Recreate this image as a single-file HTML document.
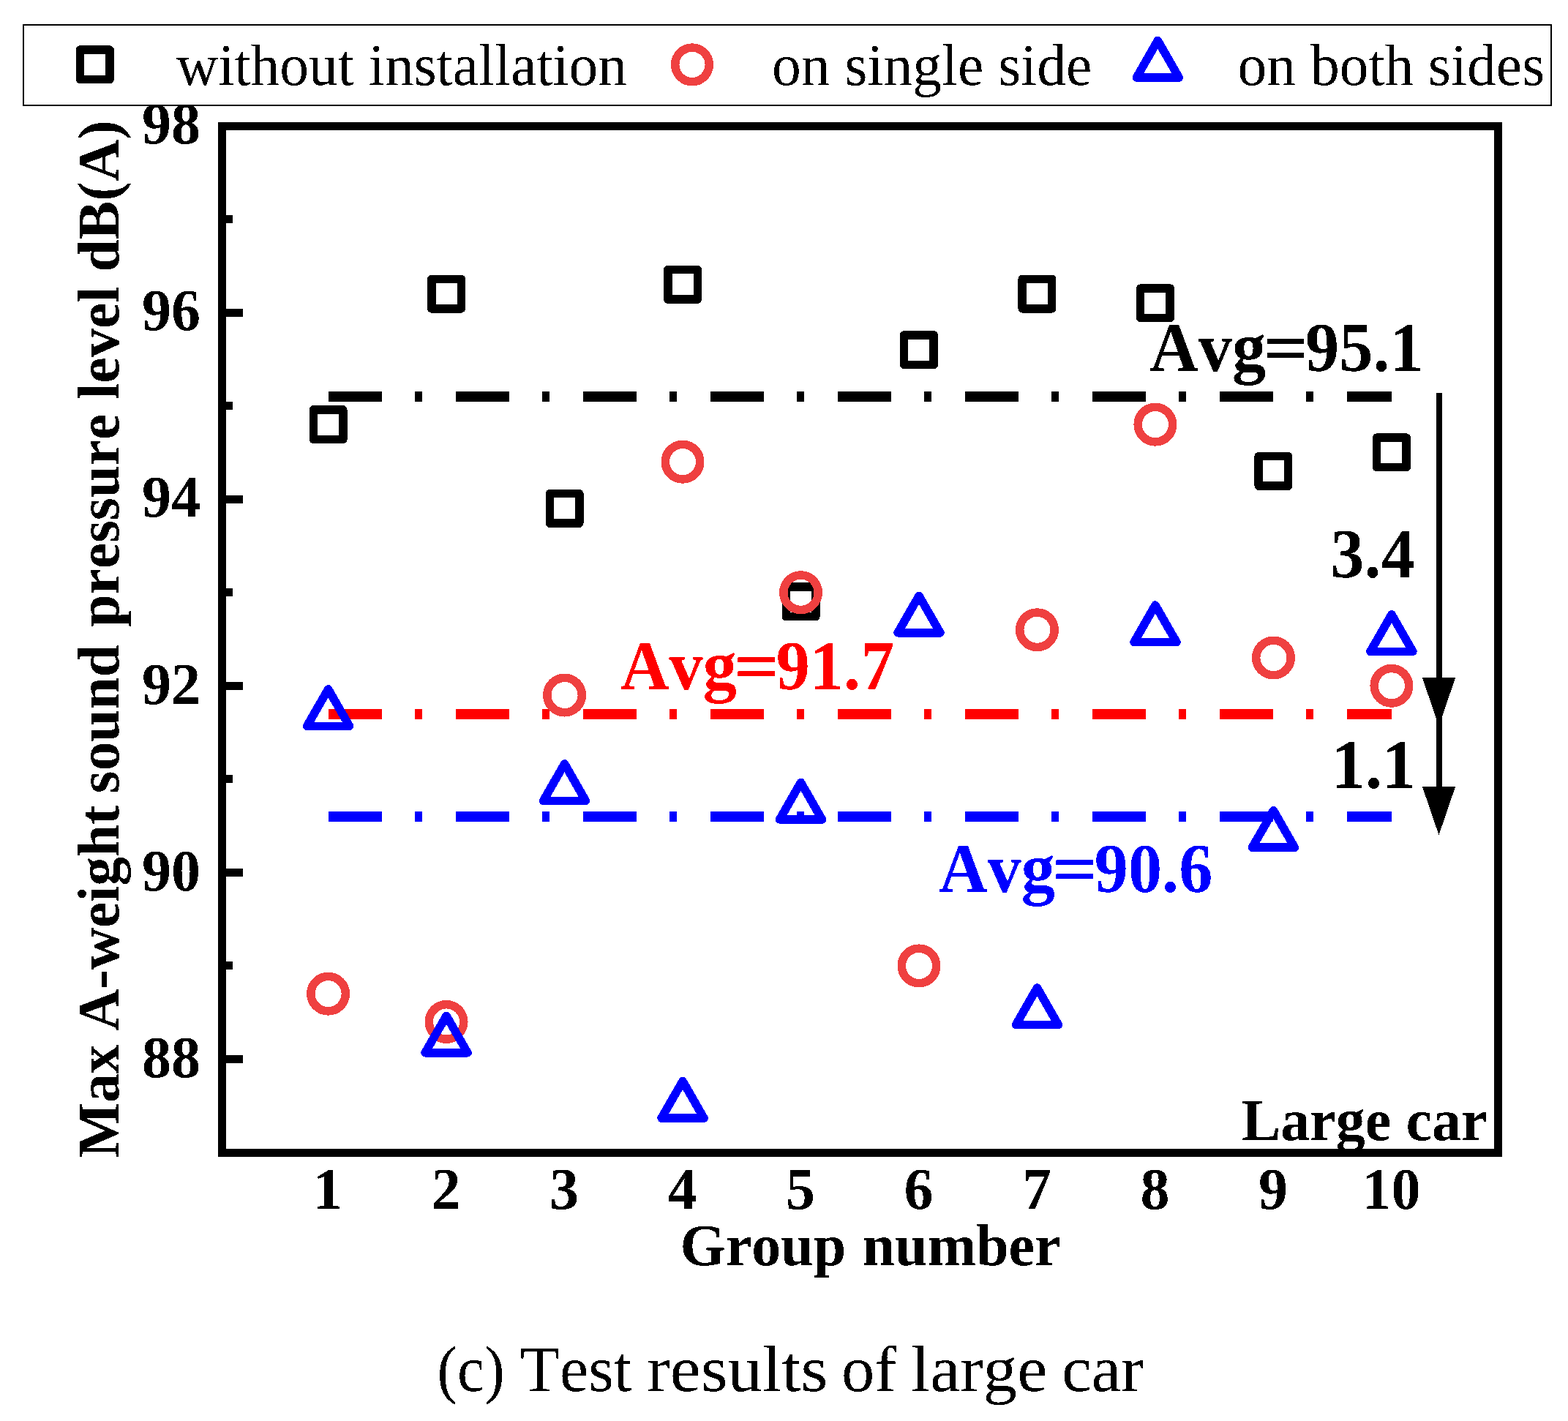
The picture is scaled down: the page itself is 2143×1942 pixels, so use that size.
<!DOCTYPE html>
<html lang="en"><head><meta charset="utf-8"><title>(c) Test results of large car</title>
<style>
html,body{margin:0;padding:0;background:#fff;}
body{width:2143px;height:1942px;overflow:hidden;}
svg{display:block;}
text{font-family:"Liberation Serif","Times New Roman",Times,serif;fill:#000;font-kerning:none;font-variant-ligatures:none;white-space:pre;}
.b{font-weight:bold;}
text{filter:url(#px);}
.tk{font-weight:bold;font-size:80px;}
.lg{font-size:79.5px;}
.an{font-weight:bold;font-size:95px;}
.cap{font-size:88px;}
.mk{fill:none;stroke-width:11.5;stroke-linejoin:round;}
</style></head><body>
<svg width="2143" height="1942" viewBox="0 0 2143 1942" shape-rendering="crispEdges" role="img" aria-label="Max A-weight sound pressure level by group number, large car">
<rect x="0" y="0" width="2143" height="1942" fill="#fff"/>
<defs><filter id="px" x="-5%" y="-5%" width="110%" height="110%" color-interpolation-filters="sRGB"><feComponentTransfer><feFuncA type="discrete" tableValues="0 1"/></feComponentTransfer></filter></defs>
<g class="tk">
<text x="194" y="196">98</text>
<text x="194" y="451.2">96</text>
<text x="194" y="706.4">94</text>
<text x="194" y="961.6">92</text>
<text x="194" y="1216.8">90</text>
<text x="194" y="1472">88</text>
</g>
<g class="tk" text-anchor="middle">
<text x="448.08" y="1651.5">1</text>
<text x="609.56" y="1651.5">2</text>
<text x="771.05" y="1651.5">3</text>
<text x="932.53" y="1651.5">4</text>
<text x="1094.01" y="1651.5">5</text>
<text x="1255.49" y="1651.5">6</text>
<text x="1416.97" y="1651.5">7</text>
<text x="1578.45" y="1651.5">8</text>
<text x="1739.94" y="1651.5">9</text>
<text x="1901.42" y="1651.5">10</text>
</g>
<g class="b" font-size="80"><text x="929.6" y="1729">Group </text><text x="1178.5" y="1729">number</text></g>
<text class="b" font-size="80" transform="translate(162 1581.8) rotate(-90) scale(0.9922 1)">Max <tspan dx="-1.2">A-weight </tspan><tspan dx="-3.8">sound </tspan><tspan dx="5">pressure level dB(A)</tspan></text>
<g stroke="#000" stroke-width="11" fill="none">
<line x1="303.5" y1="1447.5" x2="332" y2="1447.5"/>
<line x1="303.5" y1="1319.5" x2="318" y2="1319.5"/>
<line x1="303.5" y1="1192.5" x2="332" y2="1192.5"/>
<line x1="303.5" y1="1064.5" x2="318" y2="1064.5"/>
<line x1="303.5" y1="937.5" x2="332" y2="937.5"/>
<line x1="303.5" y1="809.5" x2="318" y2="809.5"/>
<line x1="303.5" y1="682.5" x2="332" y2="682.5"/>
<line x1="303.5" y1="554.5" x2="318" y2="554.5"/>
<line x1="303.5" y1="427.5" x2="332" y2="427.5"/>
<line x1="303.5" y1="299.5" x2="318" y2="299.5"/>
</g>
<g stroke-width="14" stroke-dasharray="73.2 45.2 10.2 45.4" fill="none">
<line x1="448.58" y1="541.5" x2="1901.92" y2="541.5" stroke="#000"/>
<line x1="448.58" y1="975.5" x2="1901.92" y2="975.5" stroke="#ff0000"/>
<line x1="448.58" y1="1115.5" x2="1901.92" y2="1115.5" stroke="#0000ff"/>
</g>
<g class="mk">
<rect x="428.33" y="559.9" width="40.5" height="40.5" stroke="#000"/>
<rect x="589.81" y="381.33" width="40.5" height="40.5" stroke="#000"/>
<rect x="751.3" y="674.69" width="40.5" height="40.5" stroke="#000"/>
<rect x="912.78" y="368.58" width="40.5" height="40.5" stroke="#000"/>
<rect x="1074.26" y="802.23" width="40.5" height="40.5" stroke="#000"/>
<rect x="1235.74" y="457.86" width="40.5" height="40.5" stroke="#000"/>
<rect x="1397.22" y="381.33" width="40.5" height="40.5" stroke="#000"/>
<rect x="1558.7" y="394.09" width="40.5" height="40.5" stroke="#000"/>
<rect x="1720.19" y="623.67" width="40.5" height="40.5" stroke="#000"/>
<rect x="1881.67" y="598.16" width="40.5" height="40.5" stroke="#000"/>
<circle cx="448.58" cy="1358.17" r="23.75" stroke="#ef4040"/>
<circle cx="610.06" cy="1396.44" r="23.75" stroke="#ef4040"/>
<circle cx="771.55" cy="950.03" r="23.75" stroke="#ef4040"/>
<circle cx="933.03" cy="631.16" r="23.75" stroke="#ef4040"/>
<circle cx="1094.51" cy="809.73" r="23.75" stroke="#ef4040"/>
<circle cx="1255.99" cy="1319.91" r="23.75" stroke="#ef4040"/>
<circle cx="1417.47" cy="860.75" r="23.75" stroke="#ef4040"/>
<circle cx="1578.95" cy="580.15" r="23.75" stroke="#ef4040"/>
<circle cx="1740.44" cy="899.01" r="23.75" stroke="#ef4040"/>
<circle cx="1901.92" cy="937.27" r="23.75" stroke="#ef4040"/>
<path d="M448.58 941.84 L477.58 992.39 L419.58 992.39 Z" stroke="#0000ff"/>
<path d="M610.06 1388.25 L639.06 1438.8 L581.06 1438.8 Z" stroke="#0000ff"/>
<path d="M771.55 1043.87 L800.55 1094.42 L742.55 1094.42 Z" stroke="#0000ff"/>
<path d="M933.03 1477.53 L962.03 1528.08 L904.03 1528.08 Z" stroke="#0000ff"/>
<path d="M1094.51 1069.38 L1123.51 1119.93 L1065.51 1119.93 Z" stroke="#0000ff"/>
<path d="M1255.99 814.29 L1284.99 864.84 L1226.99 864.84 Z" stroke="#0000ff"/>
<path d="M1417.47 1349.98 L1446.47 1400.53 L1388.47 1400.53 Z" stroke="#0000ff"/>
<path d="M1578.95 827.05 L1607.95 877.6 L1549.95 877.6 Z" stroke="#0000ff"/>
<path d="M1740.44 1107.65 L1769.44 1158.2 L1711.44 1158.2 Z" stroke="#0000ff"/>
<path d="M1901.92 839.8 L1930.92 890.35 L1872.92 890.35 Z" stroke="#0000ff"/>
</g>
<line x1="1967" y1="537" x2="1967" y2="1111.2" stroke="#000" stroke-width="8"/>
<path d="M1943.9 926.2 L1989.1 926.2 L1966.5 992.4 Z" fill="#000"/>
<path d="M1943.9 1075 L1989.1 1075 L1966.5 1141.2 Z" fill="#000"/>
<g class="an"><text transform="translate(1571.2 507) scale(0.972 1)">Avg</text><text transform="translate(1726.3 508) scale(1.148 1)">=</text><text transform="translate(1784.1 507) scale(0.972 1)">95.1</text></g>
<g class="an" style="fill:#ff0000"><text transform="translate(847.9 942) scale(0.972 1)" style="fill:#ff0000">Avg</text><text transform="translate(1003 943) scale(1.148 1)" style="fill:#ff0000">=</text><text transform="translate(1060.8 942) scale(0.972 1)" style="fill:#ff0000">91.7</text></g>
<g class="an" style="fill:#0000ff"><text transform="translate(1282.9 1219) scale(0.972 1)" style="fill:#0000ff">Avg</text><text transform="translate(1438 1220) scale(1.148 1)" style="fill:#0000ff">=</text><text transform="translate(1495.8 1219) scale(0.972 1)" style="fill:#0000ff">90.6</text></g>
<text class="an" transform="translate(1818.3 789) scale(0.972 1)">3.4</text>
<text class="an" transform="translate(1819.8 1077) scale(0.972 1)">1.1</text>
<text class="b" font-size="80" x="1697" y="1558">Large car</text>
<rect x="303.5" y="172.5" width="1744" height="1403" fill="none" stroke="#000" stroke-width="11"/>
<rect x="32" y="34.2" width="2088" height="109.5" fill="#fff" stroke="#000" stroke-width="2"/>
<g class="mk">
<rect x="109.55" y="68.05" width="40.5" height="40.5" stroke="#000"/>
<circle cx="946" cy="88.4" r="23.3" stroke="#ef4040"/>
<path d="M1582.3 55.4 L1611.3 105.95 L1553.3 105.95 Z" stroke="#0000ff"/>
</g>
<text class="lg" x="241" y="115.5">without installation</text>
<text class="lg" x="1055" y="115.5">on single side</text>
<text class="lg" x="1691.5" y="115.5">on both sides</text>
<g class="cap"><text transform="translate(597.4 1901) scale(0.944 1)">(c) </text><text transform="translate(710.8 1901) scale(1.007 1)">Test </text><text transform="translate(884.25 1901) scale(1.0756 1)">results </text><text transform="translate(1150.1 1901) scale(1.027 1)">of </text><text transform="translate(1245.3 1901) scale(1.059 1)">large </text><text transform="translate(1450.9 1901) scale(1.042 1)">car</text></g>
</svg>
</body></html>
